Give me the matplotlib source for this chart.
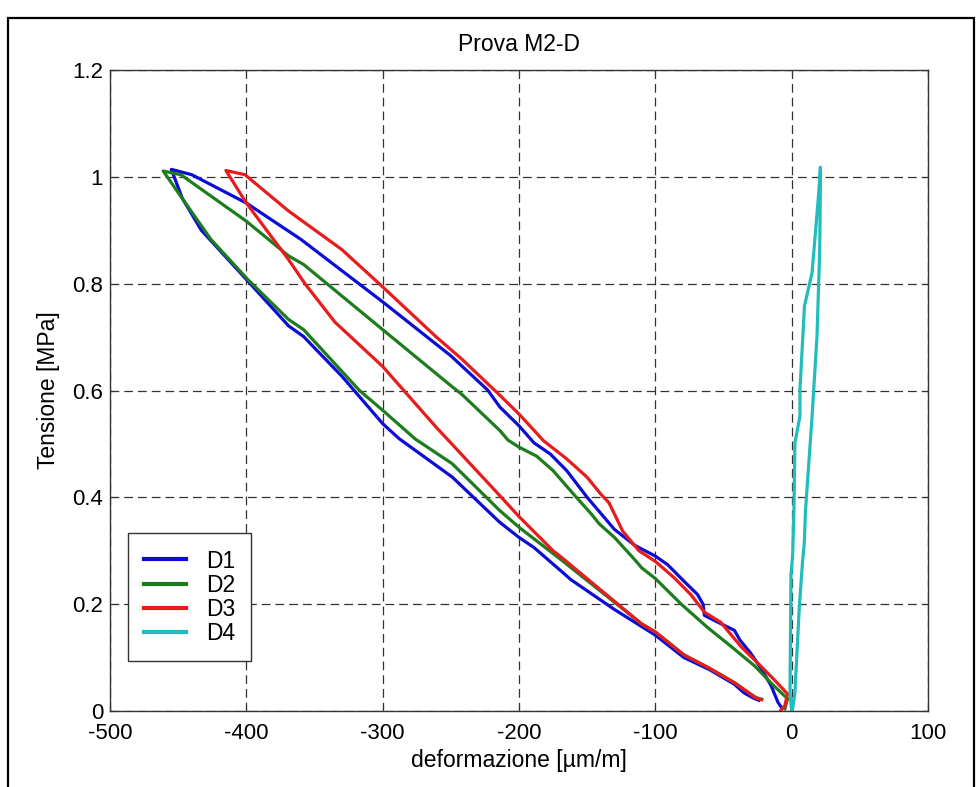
import matplotlib
matplotlib.use("Agg")
import matplotlib.pyplot as plt
from matplotlib.patches import Rectangle

# D1 - ramo di carico (dal basso verso il picco) e di scarico
d1_load_x = [-24, -28, -35, -42, -60, -79, -100, -130, -162, -170, -189, -200, -214,
             -249, -288, -300, -330, -358, -369, -400, -433, -447, -455]
d1_load_y = [0.02, 0.024, 0.034, 0.05, 0.077, 0.10, 0.142, 0.19, 0.246, 0.264, 0.306,
             0.325, 0.353, 0.438, 0.51, 0.538, 0.627, 0.701, 0.721, 0.808, 0.90, 0.96, 1.014]
d1_unload_x = [-455, -440, -400, -360, -300, -250, -242, -223, -214, -200, -189, -177,
               -165, -150, -130, -115, -100, -91, -79, -69, -65, -64, -54, -42, -38,
               -30, -22, -15, -10, -7]
d1_unload_y = [1.014, 1.004, 0.951, 0.883, 0.766, 0.665, 0.646, 0.601, 0.569, 0.534,
               0.502, 0.481, 0.45, 0.40, 0.34, 0.31, 0.29, 0.274, 0.243, 0.218, 0.20,
               0.179, 0.166, 0.151, 0.133, 0.108, 0.078, 0.047, 0.016, 0.005]

# D2
d2_load_x = [-22, -26, -32, -42, -61, -79, -100, -110, -170, -200, -214, -249, -276,
             -300, -317, -358, -369, -399, -426, -443, -461]
d2_load_y = [0.022, 0.025, 0.035, 0.053, 0.081, 0.105, 0.148, 0.163, 0.285, 0.344,
             0.375, 0.463, 0.509, 0.563, 0.60, 0.714, 0.733, 0.808, 0.883, 0.945, 1.011]
d2_unload_x = [-461, -448, -400, -369, -358, -300, -249, -242, -214, -208, -200, -187,
               -175, -160, -147, -141, -130, -115, -110, -100, -81, -62, -44, -27,
               -13, -3, -5]
d2_unload_y = [1.011, 1.004, 0.917, 0.852, 0.836, 0.714, 0.607, 0.593, 0.525, 0.507,
               0.494, 0.477, 0.45, 0.406, 0.369, 0.35, 0.325, 0.283, 0.268, 0.248,
               0.20, 0.157, 0.12, 0.084, 0.047, 0.023, 0.004]

# D3
d3_load_x = [-22, -27, -32, -42, -61, -79, -100, -110, -170, -175, -200, -214, -261,
             -300, -335, -357, -369, -400, -415]
d3_load_y = [0.021, 0.025, 0.035, 0.053, 0.081, 0.105, 0.148, 0.163, 0.29, 0.30, 0.364,
             0.403, 0.532, 0.645, 0.728, 0.80, 0.845, 0.951, 1.012]
d3_unload_x = [-415, -401, -369, -330, -300, -261, -242, -214, -200, -182, -170, -165,
               -150, -140, -134, -124, -112, -100, -95, -86, -74, -64, -52, -37, -25,
               -13, -3, -5, -8]
d3_unload_y = [1.012, 1.004, 0.936, 0.864, 0.794, 0.701, 0.659, 0.591, 0.556, 0.506,
               0.482, 0.472, 0.4375, 0.406, 0.39, 0.337, 0.30, 0.28, 0.269, 0.249,
               0.218, 0.185, 0.166, 0.12, 0.09, 0.059, 0.032, 0.01, 0.001]

# D4
d4_x = [0.0, -1.2, -0.5, 0.7, 1.7, 2.4, 6.1, 6.1, 9.4, 15, 19.9, 21.1,
        21.1, 20.6, 18.6, 15, 10.2, 9.3, 8.0, 5.6, 2.4, 0.5]
d4_y = [0.0, 0.035, 0.255, 0.29, 0.377, 0.502, 0.552, 0.602, 0.758, 0.821, 0.971, 1.018,
        0.99, 0.864, 0.702, 0.552, 0.377, 0.316, 0.28, 0.194, 0.035, 0.0]

labels = ['D1', 'D2', 'D3', 'D4']
colors = ['#0c0cd6', '#1d7d1d', '#e81c1c', '#22bcbc']
x_ticks = [-500, -400, -300, -200, -100, 0, 100]
y_ticks = [0, 0.2, 0.4, 0.6, 0.8, 1, 1.2]
y_ticklabels = ['0', '0.2', '0.4', '0.6', '0.8', '1', '1.2']


def main():
    plt.rcParams['font.family'] = ['Liberation Sans', 'DejaVu Sans']

    fig = plt.figure(figsize=(9.76, 7.87), dpi=100)
    ax = fig.add_axes([0.1127, 0.0966, 0.8381, 0.8144])

    curves = [
        (d1_load_x + d1_unload_x, d1_load_y + d1_unload_y),
        (d2_load_x + d2_unload_x, d2_load_y + d2_unload_y),
        (d3_load_x + d3_unload_x, d3_load_y + d3_unload_y),
        (d4_x, d4_y),
    ]
    for (xs, ys), lab, c in zip(curves, labels, colors):
        ax.plot(xs, ys, color=c, lw=2.3, label=lab, solid_joinstyle='round')

    ax.set_xlim(-500, 100)
    ax.set_ylim(0, 1.2)
    ax.set_xticks(x_ticks)
    ax.set_yticks(y_ticks)
    ax.set_xticklabels([str(v) for v in x_ticks])
    ax.set_yticklabels(y_ticklabels)
    ax.tick_params(direction='in', top=True, right=True, length=4.5,
                   labelsize=16, color='#333333')
    ax.tick_params(axis='y', pad=5)
    ax.tick_params(axis='x', pad=9)
    ax.grid(True, color='#333333', lw=0.9, linestyle=(0, (7, 4)))
    for s in ax.spines.values():
        s.set_color('#333333')
        s.set_linewidth(1.0)

    ax.set_title('Prova M2-D', fontsize=16.5, pad=14)
    ax.set_xlabel('deformazione [µm/m]', fontsize=16.5, labelpad=3)
    ax.set_ylabel('Tensione [MPa]', fontsize=16.5, labelpad=9)

    leg = ax.legend(loc='lower left', bbox_to_anchor=(0.022, 0.078), borderaxespad=0,
                    fancybox=False, edgecolor='#333333', framealpha=1, fontsize=16.5,
                    handlelength=1.85, handletextpad=0.85, labelspacing=0.05, borderpad=0.7)
    leg.get_frame().set_linewidth(1.0)
    for line in leg.get_lines():
        line.set_linewidth(3)

    # cornice esterna della figura
    fig.patches.append(Rectangle((8 / 976, -0.01), (974 - 8) / 976, 1.01 - 18 / 787,
                                 transform=fig.transFigure, fill=False,
                                 edgecolor='black', lw=1.6, clip_on=False))

    fig.savefig('out.png', dpi=100)


if __name__ == "__main__":
    main()
